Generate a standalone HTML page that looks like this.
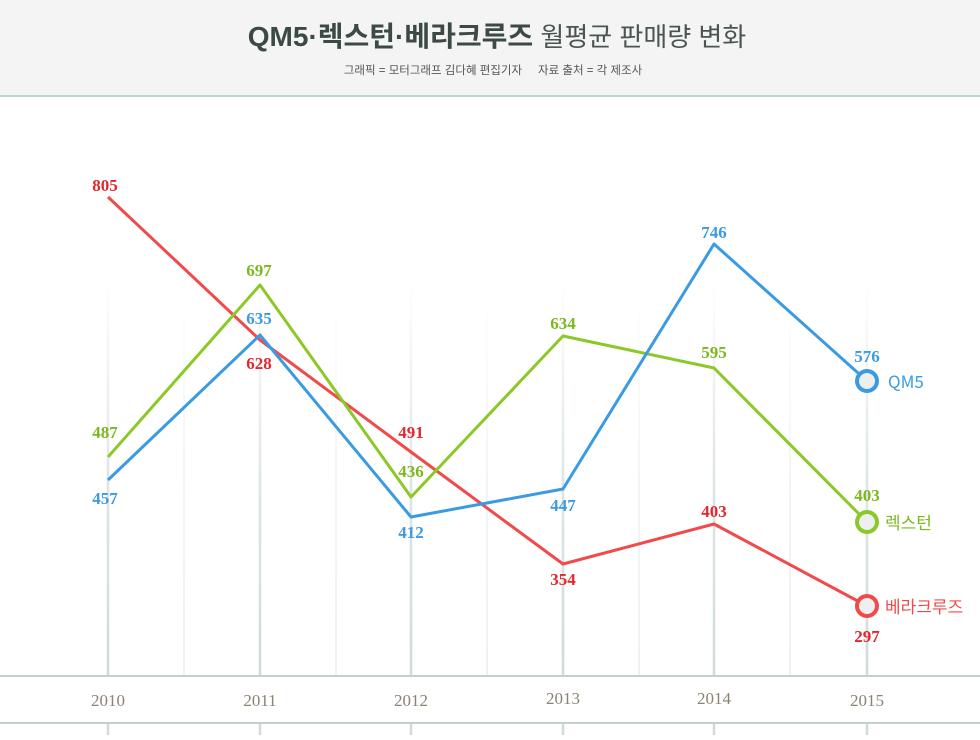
<!DOCTYPE html>
<html><head><meta charset="utf-8"><style>
body{margin:0;width:980px;height:735px;background:#fff;overflow:hidden;font-family:"Liberation Sans","Noto Sans CJK KR",sans-serif}
</style></head><body>
<svg width="980" height="735" xmlns="http://www.w3.org/2000/svg">
<defs>
<linearGradient id="gl" gradientUnits="userSpaceOnUse" x1="0" y1="280" x2="0" y2="676">
<stop offset="0" stop-color="#d6dfe0" stop-opacity="0"/>
<stop offset="0.5" stop-color="#d6dfe0" stop-opacity="0.8"/>
<stop offset="1" stop-color="#d0dadb"/>
</linearGradient>
</defs>
<rect x="0" y="0" width="980" height="95" fill="#f4f4f4"/>
<rect x="0" y="95" width="980" height="2" fill="#b9d6d0"/>
<text x="497" y="46" text-anchor="middle" font-size="28" fill="#3b4a46" font-family="Liberation Sans,Noto Sans CJK KR,sans-serif"><tspan font-weight="bold">QM5·렉스턴·베라크루즈</tspan><tspan font-size="26" fill="#4a5551"> 월평균 판매량 변화</tspan></text>
<text x="493" y="74" text-anchor="middle" font-size="11.5" fill="#555">그래픽 = 모터그래프 김다혜 편집기자 &#160;&#160;&#160;&#160;자료 출처 = 각 제조사</text>
<g stroke="url(#gl)" stroke-width="2.5">
<line x1="108" y1="280" x2="108" y2="676"/><line x1="260" y1="280" x2="260" y2="676"/><line x1="411" y1="280" x2="411" y2="676"/><line x1="563" y1="280" x2="563" y2="676"/><line x1="714" y1="280" x2="714" y2="676"/><line x1="867" y1="280" x2="867" y2="676"/>
</g>
<g stroke="url(#gl)" stroke-width="1.5" opacity="0.5">
<line x1="184" y1="300" x2="184" y2="676"/><line x1="336" y1="300" x2="336" y2="676"/><line x1="487" y1="300" x2="487" y2="676"/><line x1="639" y1="300" x2="639" y2="676"/><line x1="790" y1="300" x2="790" y2="676"/>
</g>
<g stroke="#d0dadb" stroke-width="2.5">
<line x1="108" y1="723" x2="108" y2="735"/><line x1="260" y1="723" x2="260" y2="735"/><line x1="411" y1="723" x2="411" y2="735"/><line x1="563" y1="723" x2="563" y2="735"/><line x1="714" y1="723" x2="714" y2="735"/><line x1="867" y1="723" x2="867" y2="735"/>
</g>
<rect x="0" y="675" width="980" height="2" fill="#c3d0d0"/>
<rect x="0" y="722" width="980" height="2" fill="#c3d0d0"/>
<g font-family="Liberation Serif,serif" font-size="17" fill="#8a8272" text-anchor="middle">
<text x="108" y="706">2010</text><text x="260" y="706">2011</text><text x="411" y="706">2012</text><text x="563" y="704">2013</text><text x="714" y="704">2014</text><text x="867" y="706">2015</text>
</g>
<g fill="none" stroke-width="3" stroke-linejoin="round">
<polyline stroke="#f04a4a" points="108,197 260,340 411,452 563,564 714,524 867,606"/>
<polyline stroke="#8cc828" points="108,457 260,285 411,497 563,336 714,368 867,522"/>
<polyline stroke="#3a9be2" points="108,480 260,335 411,517 563,489 714,244 867,381"/>
</g>
<g stroke-width="4" fill="#eef0f0">
<circle cx="867" cy="381" r="10" stroke="#3a9be2"/>
<circle cx="867" cy="522" r="10" stroke="#8cc828"/>
<circle cx="867" cy="606" r="10" stroke="#f04a4a"/>
</g>
<g font-size="17" font-family="Noto Sans CJK KR,sans-serif">
<text x="888" y="388" fill="#3a9be2">QM5</text>
<text x="885" y="529" fill="#7bb81e">렉스턴</text>
<text x="885" y="613" fill="#f04a4a">베라크루즈</text>
</g>
<g font-family="Liberation Serif,serif" font-size="17" font-weight="bold" text-anchor="middle">
<g fill="#3a9be2"><text x="105" y="504">457</text><text x="259" y="324">635</text><text x="411" y="538">412</text><text x="563" y="511">447</text><text x="714" y="238">746</text><text x="867" y="362">576</text></g>
<g fill="#7bb81e"><text x="105" y="438">487</text><text x="259" y="276">697</text><text x="411" y="477">436</text><text x="563" y="329">634</text><text x="714" y="358">595</text><text x="867" y="501">403</text></g>
<g fill="#e0282f"><text x="105" y="191">805</text><text x="259" y="369">628</text><text x="411" y="438">491</text><text x="563" y="585">354</text><text x="714" y="517">403</text><text x="867" y="642">297</text></g>
</g>
</svg>
</body></html>
